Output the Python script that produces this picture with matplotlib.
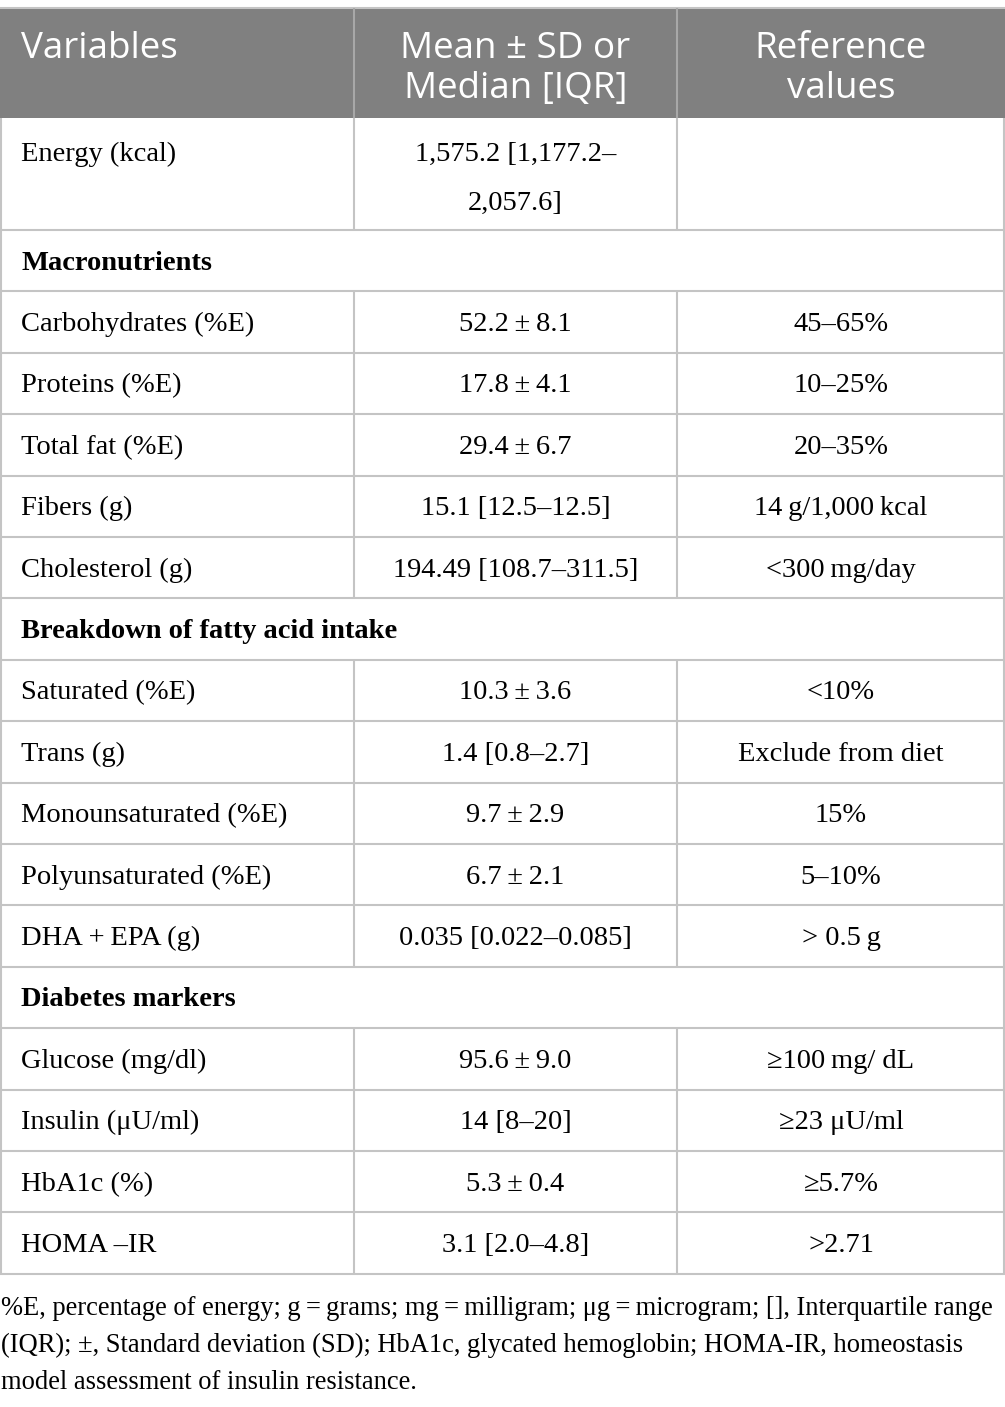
import matplotlib
matplotlib.use('Agg')
import matplotlib.pyplot as plt
from matplotlib.patches import Rectangle

# ---------------------------------------------
# table contents
headers = ['Variables', 'Mean \u00b1 SD or\nMedian [IQR]', 'Reference\nvalues']

variables = ['Energy (kcal)', 'Macronutrients', 'Carbohydrates (%E)', 'Proteins (%E)',
             'Total fat (%E)', 'Fibers (g)', 'Cholesterol (g)',
             'Breakdown of fatty acid intake', 'Saturated (%E)', 'Trans (g)',
             'Monounsaturated (%E)', 'Polyunsaturated (%E)', 'DHA\u2009+\u2009EPA (g)',
             'Diabetes markers', 'Glucose (mg/dl)', 'Insulin (\u03bcU/ml)', 'HbA1c (%)',
             'HOMA \u2013IR']

values = ['1,575.2 [1,177.2\u2013\n2,057.6]', None, '52.2\u2009\u00b1\u20098.1',
          '17.8\u2009\u00b1\u20094.1', '29.4\u2009\u00b1\u20096.7', '15.1 [12.5\u201312.5]',
          '194.49 [108.7\u2013311.5]', None, '10.3\u2009\u00b1\u20093.6', '1.4 [0.8\u20132.7]',
          '9.7\u2009\u00b1\u20092.9', '6.7\u2009\u00b1\u20092.1', '0.035 [0.022\u20130.085]',
          None, '95.6\u2009\u00b1\u20099.0', '14 [8\u201320]', '5.3\u2009\u00b1\u20090.4',
          '3.1 [2.0\u20134.8]']

refs = ['', None, '45\u201365%', '10\u201325%', '20\u201335%', '14\u2009g/1,000\u2009kcal',
        '<300\u2009mg/day', None, '<10%', 'Exclude from diet', '15%', '5\u201310%',
        '> 0.5\u2009g', None, '\u2265100\u2009mg/ dL', '\u226523 \u03bcU/ml', '\u22655.7%',
        '>2.71']

footnoteLines = ['%E, percentage of energy; g\u2009=\u2009grams; mg\u2009=\u2009milligram; '
                 '\u03bcg\u2009=\u2009microgram; [], Interquartile range',
                 '(IQR); \u00b1, Standard deviation (SD); HbA1c, glycated hemoglobin; '
                 'HOMA-IR, homeostasis',
                 'model assessment of insulin resistance.']

# ---------------------------------------------
# layout (pixels)
W, H = 1005, 1407
colEdges = [0, 354, 677, 1005]
headTop, headBottom = 8, 118
firstRowH = 112
rowH = 61.4
noteGap = 37
lineColor = '#c4c4c4'
headColor = '#808080'
serif = ['Liberation Serif', 'DejaVu Serif']
sans = ['Open Sans', 'DejaVu Sans']
bodySize = 20.5
headSize = 26.5
textShift = 2.5   # nudge so the glyphs sit visually centred in a row

fig = plt.figure(figsize=(W / 100, H / 100), dpi=100)
ax = fig.add_axes([0, 0, 1, 1])
ax.set_xlim(0, W)
ax.set_ylim(H, 0)
ax.axis('off')

# header
ax.add_patch(Rectangle((0, headTop), W, headBottom - headTop, facecolor=headColor,
                       edgecolor='none'))
ax.hlines(headTop, 0, W, color=lineColor, lw=1.5)
ax.vlines(colEdges[1:3], headTop, headBottom, color='#a8a8a8', lw=1.5)
ax.text(21, 49, headers[0], color='white', fontsize=headSize, family=sans,
        fontweight='medium', ha='left', va='center')
for i in (1, 2):
    cx = (colEdges[i] + colEdges[i + 1]) / 2
    ax.text(cx, 69, headers[i], color='white', fontsize=headSize, family=sans,
            fontweight='medium', ha='center', va='center', linespacing=1.17)

# body rows
y = headBottom
for i, var in enumerate(variables):
    h = firstRowH if i == 0 else rowH
    top, bottom = y, y + h
    isSection = values[i] is None
    if i == 0:
        ax.text(21, top + 34 + textShift, var, fontsize=bodySize, family=serif,
                ha='left', va='center')
        cx = (colEdges[1] + colEdges[2]) / 2
        ax.text(cx, top + 58.5 + textShift, values[i], fontsize=bodySize, family=serif,
                ha='center', va='center', linespacing=2.28)
    else:
        mid = (top + bottom) / 2 + textShift
        ax.text(21, mid, var, fontsize=bodySize, family=serif, ha='left', va='center',
                fontweight='bold' if isSection else 'normal')
        if not isSection:
            ax.text((colEdges[1] + colEdges[2]) / 2, mid, values[i], fontsize=bodySize,
                    family=serif, ha='center', va='center')
            ax.text((colEdges[2] + colEdges[3]) / 2, mid, refs[i], fontsize=bodySize,
                    family=serif, ha='center', va='center')
    if not isSection:
        ax.vlines(colEdges[1:3], top, bottom, color=lineColor, lw=1.5)
    ax.hlines(bottom, 0, W, color=lineColor, lw=1.5)
    y = bottom

# outer border of body
ax.vlines([0.8, W - 0.8], headBottom, y, color=lineColor, lw=1.5)

# footnote, one line at a time so the spacing is exact
for k, line in enumerate(footnoteLines):
    ax.text(1, y + 35 + k * noteGap, line, fontsize=19.1, family=serif, ha='left',
            va='center')

fig.savefig('out.png', dpi=100)
